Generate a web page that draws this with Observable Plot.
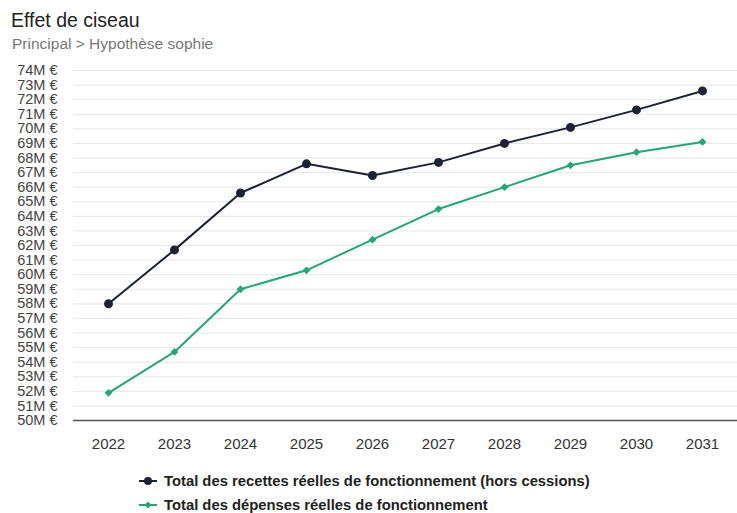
<!DOCTYPE html>
<html>
<head>
<meta charset="utf-8">
<script src="https://cdn.jsdelivr.net/npm/d3@7"></script>
<script src="https://cdn.jsdelivr.net/npm/@observablehq/plot@0.6"></script>
<style>
  body { margin: 0; background: #fff; font-family: "Liberation Sans", Arial, sans-serif; }
  #wrap { width: 737px; }
  .title { padding: 8px 0 0 11px; height: 26px; font-size: 19.5px; color: #222; line-height: 24px; }
  .subtitle { padding-left: 12px; height: 26px; font-size: 15.5px; color: #777; line-height: 20px; }
  #chart { height: 400px; }
  #chart svg { display: block; }
  .legend { padding-left: 138px; height: 24px; font-size: 14.8px; font-weight: bold; color: #222; display: flex; align-items: center; }
  .legend svg { margin-right: 6px; }
</style>
</head>
<body>
<div id="wrap">
  <div class="title">Effet de ciseau</div>
  <div class="subtitle">Principal &gt; Hypothèse sophie</div>
  <div id="chart"></div>
  <div style="height:9px"></div>
  <div class="legend"><svg width="20" height="12"><line x1="1" y1="6" x2="19" y2="6" stroke="#1e2235" stroke-width="2"/><circle cx="10" cy="6" r="4" fill="#1e2235"/></svg>Total des recettes réelles de fonctionnement (hors cessions)</div>
  <div class="legend"><svg width="20" height="12"><line x1="1" y1="6" x2="19" y2="6" stroke="#22a67c" stroke-width="2"/><path d="M10,2.5L13.5,6L10,9.5L6.5,6Z" fill="#22a67c"/></svg>Total des dépenses réelles de fonctionnement</div>
</div>
<script>
const years = [2022, 2023, 2024, 2025, 2026, 2027, 2028, 2029, 2030, 2031];
const recettes = [58.0, 61.7, 65.6, 67.6, 66.8, 67.7, 69.0, 70.1, 71.3, 72.6];
const depenses = [51.9, 54.7, 59.0, 60.3, 62.4, 64.5, 66.0, 67.5, 68.4, 69.1];
const yTicks = d3.range(50, 75, 1);

const dataR = years.map((y, i) => ({ year: y, value: recettes[i] }));
const dataD = years.map((y, i) => ({ year: y, value: depenses[i] }));

const chart = Plot.plot({
  width: 737,
  height: 400,
  marginLeft: 73,
  marginRight: 0,
  marginTop: 10,
  marginBottom: 40,
  style: { fontFamily: "Liberation Sans, Arial, sans-serif", background: "transparent" },
  x: { type: "point", domain: years, padding: 0.5 },
  y: { domain: [50, 74] },
  marks: [
    Plot.ruleY(yTicks.filter(t => t > 50), { stroke: "#e6e6e6", strokeWidth: 1 }),
    Plot.ruleY([50], { stroke: "#555", strokeWidth: 1.5 }),
    Plot.axisY({ ticks: yTicks, tickSize: 0, tickPadding: 16, tickFormat: d => `${d}M €`, fontSize: 14.5, fill: "#444", label: null }),
    Plot.axisX({ tickSize: 0, tickPadding: 18, fontSize: 15, fill: "#333", label: null, tickFormat: d => String(d) }),
    Plot.line(dataR, { x: "year", y: "value", stroke: "#1e2235", strokeWidth: 2 }),
    Plot.dot(dataR, { x: "year", y: "value", r: 4.5, fill: "#1e2235", symbol: "circle" }),
    Plot.line(dataD, { x: "year", y: "value", stroke: "#22a67c", strokeWidth: 2 }),
    Plot.dot(dataD, { x: "year", y: "value", r: 3.5, fill: "#22a67c", symbol: "diamond2" })
  ]
});
document.getElementById("chart").appendChild(chart);
</script>
</body>
</html>
